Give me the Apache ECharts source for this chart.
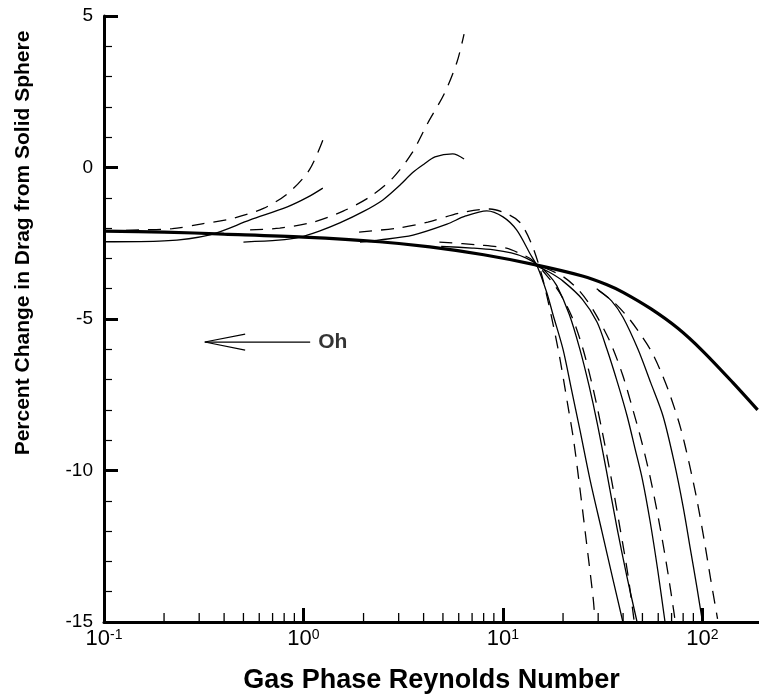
<!DOCTYPE html>
<html>
<head>
<meta charset="utf-8">
<script src="https://cdn.jsdelivr.net/npm/echarts@6/dist/echarts.min.js"></script>
<style>
html,body{margin:0;padding:0;background:#fff;}
#chart{width:759px;height:695px;}
</style>
</head>
<body>
<div id="chart"></div>
<script>
// ---- data (Re, percent change in drag) ----
const solidSphereRef = [[0.1,-2.1],[0.2,-2.13],[0.4,-2.2],[1,-2.3],[2.4,-2.45],[4.3,-2.62],[8,-2.88],[14.8,-3.22],[25,-3.58],[33,-3.86],[40,-4.12],[55,-4.66],[75,-5.3],[100,-6.05],[142,-7.1],[189,-8.0]];

const solidA = [[0.1,-2.45],[0.2,-2.42],[0.34,-2.22],[0.54,-1.73],[0.83,-1.3],[1.05,-0.98],[1.25,-0.68]];
const dashedA = [[0.1,-2.1],[0.15,-2.06],[0.22,-2.02],[0.31,-1.86],[0.44,-1.68],[0.63,-1.35],[0.84,-0.84],[1.07,-0.08],[1.25,0.9]];

const solidB = [[0.5,-2.46],[0.75,-2.4],[0.96,-2.3],[1.2,-2.1],[1.52,-1.83],[2.0,-1.45],[2.5,-1.07],[3.0,-0.62],[3.54,-0.16],[4.0,0.1],[4.56,0.35],[5.6,0.45],[6.38,0.28]];
const dashedB = [[0.54,-2.06],[0.76,-2.0],[1.12,-1.8],[1.58,-1.44],[2.15,-0.97],[2.8,-0.35],[3.5,0.48],[4.2,1.47],[5.1,2.46],[5.88,3.48],[6.38,4.4]];

const solidC = [[1.92,-2.46],[2.42,-2.39],[3.54,-2.23],[5.24,-1.87],[6.5,-1.6],[8.3,-1.43],[10,-1.63],[11.7,-2.06],[13.6,-2.82],[14.9,-3.28],[16.6,-4.14],[17.8,-4.85],[20,-6.0],[22,-7.3],[24.3,-8.66],[27.3,-10.3],[31.3,-12],[35.6,-13.6],[39.9,-15]];
const dashedC = [[1.9,-2.13],[2.96,-2.0],[4.2,-1.8],[6.08,-1.5],[8.6,-1.37],[10.8,-1.57],[12.3,-1.85],[14.1,-2.62],[16,-3.8],[18.9,-6.0],[21.2,-7.9],[22.6,-9.0],[24.2,-10.5],[25.8,-12],[28.3,-14.2],[28.8,-14.8]];

const solidD = [[4.9,-2.6],[7,-2.66],[9,-2.72],[11,-2.82],[13,-2.98],[15,-3.22],[17,-3.55],[18.6,-3.9],[21.5,-4.85],[24.3,-6],[27,-7.2],[29.7,-8.45],[33.2,-10.1],[37.3,-11.9],[41.8,-13.5],[47,-15]];
const dashedD = [[4.8,-2.46],[7.7,-2.56],[10.4,-2.66],[12,-2.82],[14,-3.05],[16.5,-3.55],[19.3,-4.15],[22.4,-5.0],[25.2,-6],[28.3,-7.3],[31.4,-8.7],[35.2,-10.4],[38.6,-11.9],[42.2,-13.4],[45.5,-15]];

const solidE = [[14,-3.18],[17,-3.45],[20,-3.75],[25,-4.35],[29.6,-5.1],[33.2,-6],[37.5,-7.1],[41.9,-8.2],[46,-9.3],[50,-10.3],[54.7,-11.7],[59.7,-13.3],[64.9,-15]];
const dashedE = [[16,-3.3],[20,-3.6],[24,-4.05],[28.3,-4.7],[34.4,-5.75],[39.8,-6.85],[44.6,-7.95],[49.8,-9.1],[55,-10.3],[61,-11.8],[66.8,-13.3],[72,-14.7],[73,-15]];

const solidF = [[29.5,-4.0],[35,-4.4],[40,-4.95],[47.5,-6.0],[55,-7.1],[63.4,-8.2],[72,-9.7],[80,-11.2],[87,-12.6],[94,-13.9],[100,-15]];
const dashedF = [[30,-4.05],[36,-4.45],[43,-5.0],[50,-5.6],[55.8,-6.1],[62,-6.75],[68.7,-7.5],[77.7,-8.6],[86,-9.8],[94,-11.0],[102,-12.3],[110,-13.6],[119,-14.9]];

// annotation: arrow with "Oh"
const arrowShaft = [[1.08,-5.76],[0.32,-5.76]];
const arrowHead = [[0.51,-5.5],[0.32,-5.76],[0.51,-6.03]];
const arrowLabelPos = [1.08,-5.76];
const arrowLabel = 'Oh';

// axes
const xMin = 0.1, xMax = 192;
const yMin = -15, yMax = 5, yStep = 5;
const xMinorTicks = [0.2,0.3,0.4,0.5,0.6,0.7,0.8,0.9,2,3,4,5,6,7,8,9,20,30,40,50,60,70,80,90];
const xTitle = 'Gas Phase Reynolds Number';
const yTitle = 'Percent Change in Drag from Solid Sphere';

const FONT = "'Liberation Sans', Arial, Helvetica, sans-serif";

function lineSeries(name, data, dashed, width) {
  return {
    name: name, type: 'line', data: data, showSymbol: false, symbol: 'none',
    smooth: 0.3, clip: true, silent: true,
    lineStyle: { color: '#000', width: width || 1.3, type: dashed ? [13, 9] : 'solid' },
    z: width ? 5 : 3
  };
}

const chart = echarts.init(document.getElementById('chart'), null, { renderer: 'canvas' });
chart.setOption({
  animation: false,
  backgroundColor: '#fff',
  grid: { left: 104, right: 0, top: 16, bottom: 73, containLabel: false, outerBoundsMode: 'none' },
  xAxis: {
    type: 'log', logBase: 10, min: xMin, max: xMax,
    name: xTitle, nameLocation: 'middle', nameGap: 45,
    nameTextStyle: { fontFamily: FONT, fontWeight: 'bold', fontSize: 27, color: '#000' },
    axisLine: { show: true, onZero: false, lineStyle: { color: '#000', width: 3 } },
    axisTick: { show: true, inside: true, length: 14, lineStyle: { color: '#000', width: 3 } },
    minorTick: { show: false },
    splitLine: { show: false },
    axisLabel: {
      margin: 6, color: '#000', showMaxLabel: false,
      formatter: function (v) {
        const e = Math.log10(v);
        if (Math.abs(e - Math.round(e)) > 1e-6) return '';
        return '{b|10}{s|' + Math.round(e) + '}';
      },
      rich: {
        b: { fontFamily: FONT, fontSize: 22, color: '#000' },
        s: { fontFamily: FONT, fontSize: 14, color: '#000', verticalAlign: 'top' }
      }
    }
  },
  yAxis: {
    type: 'value', min: yMin, max: yMax, interval: yStep,
    name: yTitle, nameLocation: 'middle', nameGap: 70, nameRotate: 90,
    nameTextStyle: { fontFamily: FONT, fontWeight: 'bold', fontSize: 21, color: '#000', padding: [0, 0, 0, 152] },
    axisLine: { show: true, onZero: false, lineStyle: { color: '#000', width: 3 } },
    axisTick: { show: true, inside: true, length: 14, lineStyle: { color: '#000', width: 3 } },
    minorTick: { show: true, splitNumber: 5, length: 8, lineStyle: { color: '#000', width: 1.2 } },
    splitLine: { show: false },
    axisLabel: { margin: 11, fontFamily: FONT, fontSize: 19, color: '#000' }
  },
  series: [
    {
      type: 'custom', silent: true, clip: false, z: 4,
      data: xMinorTicks.map(function (v) { return [v, yMin]; }),
      encode: { x: 0, y: 1 },
      renderItem: function (params, api) {
        const p = api.coord([api.value(0), api.value(1)]);
        return { type: 'line', shape: { x1: p[0], y1: p[1], x2: p[0], y2: p[1] - 9 },
                 style: { stroke: '#000', lineWidth: 1.3 } };
      }
    },
    lineSeries('A solid', solidA, false),
    lineSeries('A dashed', dashedA, true),
    lineSeries('B solid', solidB, false),
    lineSeries('B dashed', dashedB, true),
    lineSeries('C solid', solidC, false),
    lineSeries('C dashed', dashedC, true),
    lineSeries('D solid', solidD, false),
    lineSeries('D dashed', dashedD, true),
    lineSeries('E solid', solidE, false),
    lineSeries('E dashed', dashedE, true),
    lineSeries('F solid', solidF, false),
    lineSeries('F dashed', dashedF, true),
    lineSeries('Solid sphere', solidSphereRef, false, 3.2),
    { type: 'line', data: arrowShaft, showSymbol: false, symbol: 'none', silent: true,
      lineStyle: { color: '#000', width: 1.2 } },
    { type: 'line', data: arrowHead, showSymbol: false, symbol: 'none', silent: true,
      lineStyle: { color: '#000', width: 1.2 } },
    { type: 'scatter', data: [arrowLabelPos], symbolSize: 0, silent: true,
      label: { show: true, position: 'right', distance: 8, formatter: arrowLabel,
               fontFamily: FONT, fontWeight: 'bold', fontSize: 21, color: '#000' } }
  ]
});
</script>
</body>
</html>
